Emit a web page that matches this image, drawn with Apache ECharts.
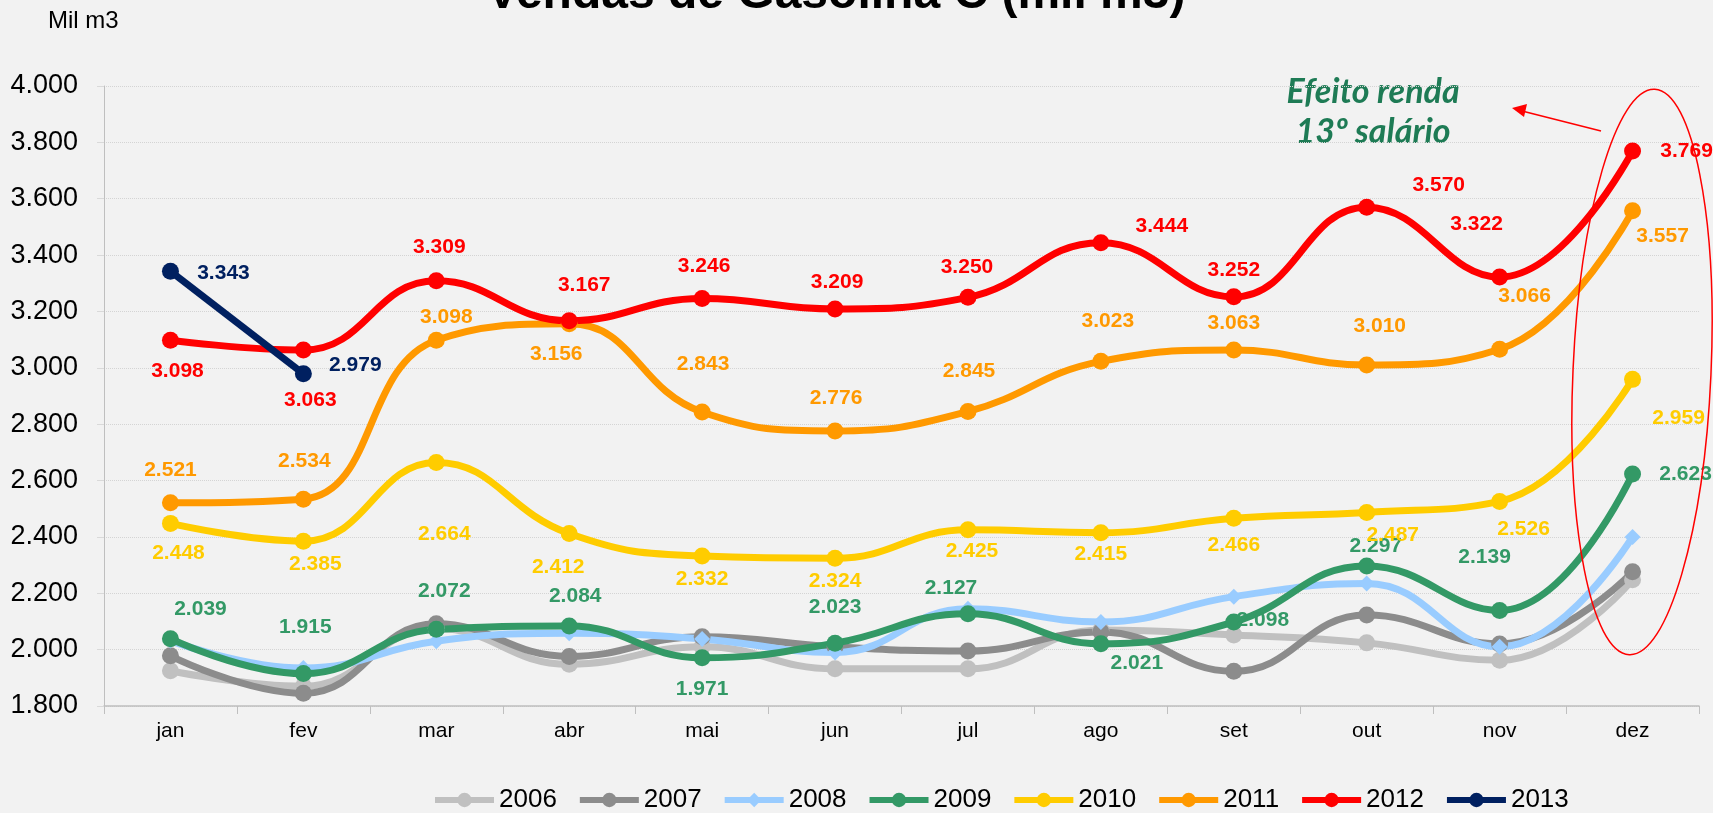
<!DOCTYPE html>
<html>
<head>
<meta charset="utf-8">
<title>Vendas de Gasolina C</title>
<script src="https://cdn.jsdelivr.net/npm/echarts@6/dist/echarts.min.js"></script>
<style>
  html, body { margin: 0; padding: 0; background: #f2f2f2; }
  #chart { width: 1713px; height: 813px; }
</style>
</head>
<body>
<div id="chart"></div>
<script>
// meses
const months = ['jan', 'fev', 'mar', 'abr', 'mai', 'jun', 'jul', 'ago', 'set', 'out', 'nov', 'dez']

// vendas em mil m3
const v2006 = [1925, 1870, 2075, 1948, 2010, 1932, 1932, 2070, 2052, 2024, 1962, 2248]
const v2007 = [1978, 1845, 2092, 1976, 2046, 2010, 1995, 2063, 1923, 2123, 2020, 2276]
const v2008 = [2032, 1935, 2030, 2058, 2038, 1990, 2145, 2098, 2188, 2235, 2010, 2400]
const v2009 = [2039, 1915, 2072, 2084, 1971, 2023, 2127, 2021, 2098, 2297, 2139, 2623]
const v2010 = [2448, 2385, 2664, 2412, 2332, 2324, 2425, 2415, 2466, 2487, 2526, 2959]
const v2011 = [2521, 2534, 3098, 3156, 2843, 2776, 2845, 3023, 3063, 3010, 3066, 3557]
const v2012 = [3098, 3063, 3309, 3167, 3246, 3209, 3250, 3444, 3252, 3570, 3322, 3769]
const v2013 = [3343, 2979]

const yTicks = { min: 1800, max: 4000, step: 200 }

// deslocamento dos rótulos em px (centro do rótulo em relação ao ponto)
const labelOffsets = {
  '2009': [[30, -29], [2, -46], [8, -38], [6, -30], [0, 31], [0, -36], [-17, -26], [36, 19], [29, -2], [9, -20], [-15, -53], [53, 0]],
  '2010': [[8, 30], [12, 23], [8, 72], [-11, 34], [0, 23], [0, 23], [4, 21], [0, 22], [0, 27], [26, 23], [24, 28], [46, 39]],
  '2011': [[0, -33], [1, -38], [10, -23], [-13, 30], [1, -48], [1, -33], [1, -40], [7, -40], [0, -27], [13, -39], [25, -53], [30, 25]],
  '2012': [[7, 31], [7, 50], [3, -34], [15, -36], [2, -32], [2, -27], [-1, -30], [61, -16], [0, -27], [72, -22], [-23, -53], [54, 0]],
  '2013': [[53, 2], [52, -9]]
}

const colors = {
  '2006': '#c0c0c0',
  '2007': '#8c8c8c',
  '2008': '#99ccff',
  '2009': '#339966',
  '2010': '#ffcc00',
  '2011': '#ff9900',
  '2012': '#ff0000',
  '2013': '#002060'
}

const fmt = v => (v / 1000).toFixed(3)
const font = 'Liberation Sans, Arial'

function makeSeries(name, values, symbol) {
  const offs = labelOffsets[name]
  return {
    name: name,
    type: 'line',
    smooth: 0.45,
    data: values.map((v, i) => {
      const item = { value: v }
      if (offs) {
        item.label = { show: true, position: 'inside', offset: offs[i] }
      }
      return item
    }),
    symbol: symbol || 'circle',
    symbolSize: symbol === 'diamond' ? 16 : 17,
    showAllSymbol: true,
    lineStyle: { width: 7, color: colors[name] },
    itemStyle: { color: colors[name] },
    label: {
      show: false,
      formatter: p => fmt(p.value),
      color: colors[name],
      fontWeight: 'bold',
      fontSize: 21,
      fontFamily: font
    },
    emphasis: { disabled: true }
  }
}

const chart = echarts.init(document.getElementById('chart'))

chart.setOption({
  backgroundColor: '#f2f2f2',
  animation: false,
  title: {
    text: 'Vendas de Gasolina C (mil m3)',
    left: 831,
    textAlign: 'center',
    top: -34,
    textStyle: { fontSize: 48, fontWeight: 'bold', color: '#000', fontFamily: font }
  },
  legend: {
    bottom: -5,
    left: 427,
    itemWidth: 59,
    itemHeight: 18,
    itemGap: 20,
    lineStyle: { width: 6 },
    textStyle: { fontSize: 26, color: '#000', fontFamily: font },
    data: ['2006', '2007', '2008', '2009', '2010', '2011', '2012', '2013']
  },
  grid: { left: 104, right: 14, top: 86, bottom: 107 },
  xAxis: {
    type: 'category',
    data: months,
    boundaryGap: true,
    axisLine: { lineStyle: { color: '#bfbfbf', width: 1.5 } },
    axisTick: { show: true, length: 8, lineStyle: { color: '#bfbfbf' } },
    axisLabel: { color: '#000', fontSize: 21, margin: 15, fontFamily: font }
  },
  yAxis: {
    type: 'value',
    name: 'Mil m3',
    nameLocation: 'end',
    nameGap: 53,
    nameTextStyle: { color: '#000', fontSize: 24, align: 'left', padding: [0, 0, 0, -56], fontFamily: font },
    min: yTicks.min,
    max: yTicks.max,
    interval: yTicks.step,
    axisLine: { show: true, lineStyle: { color: '#bfbfbf', width: 1 } },
    axisTick: { show: true, length: 7, lineStyle: { color: '#d9d9d9' } },
    splitLine: { lineStyle: { color: '#d4d4d4', type: 'dotted' } },
    axisLabel: { color: '#000', fontSize: 27, margin: 26, formatter: fmt, fontFamily: font }
  },
  series: [
    makeSeries('2006', v2006),
    makeSeries('2007', v2007),
    makeSeries('2008', v2008, 'diamond'),
    makeSeries('2009', v2009),
    makeSeries('2010', v2010),
    makeSeries('2011', v2011),
    makeSeries('2012', v2012),
    makeSeries('2013', v2013)
  ],
  graphic: [
    {
      type: 'text',
      x: 1373,
      y: 72,
      style: {
        text: 'Efeito renda\n13º salário',
        align: 'center',
        verticalAlign: 'top',
        fill: '#1e7b55',
        font: 'italic bold 34px Lato, "Open Sans", sans-serif',
        lineHeight: 40
      }
    },
    {
      type: 'line',
      shape: { x1: 1601, y1: 131, x2: 1522, y2: 111 },
      style: { stroke: '#ff0000', lineWidth: 1.5 }
    },
    {
      type: 'polygon',
      shape: { points: [[1512, 108], [1527, 104], [1524, 117]] },
      style: { fill: '#ff0000' }
    },
    {
      type: 'ellipse',
      shape: { cx: 1642, cy: 372, rx: 69, ry: 283 },
      rotation: -0.045,
      originX: 1642,
      originY: 372,
      style: { fill: 'none', stroke: '#ff0000', lineWidth: 1.5 },
      z: 100
    }
  ]
})
</script>
</body>
</html>
